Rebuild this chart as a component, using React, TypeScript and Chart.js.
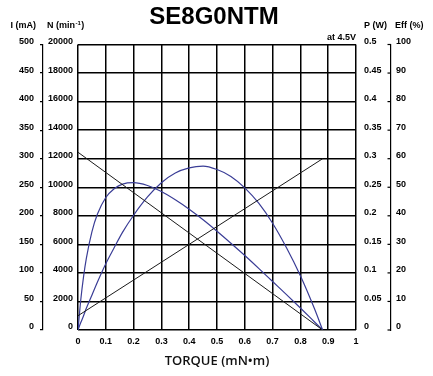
import React, { useEffect, useRef } from "react";
import { Chart, registerables } from "chart.js";

Chart.register(...registerables);

// ---- data ----
const torque = [0, 0.01, 0.02, 0.03, 0.05, 0.07, 0.1, 0.13, 0.16, 0.2, 0.25, 0.3, 0.35, 0.4, 0.45, 0.5, 0.55, 0.6, 0.65, 0.7, 0.75, 0.8, 0.85, 0.88];
const outputPower = [0, 0.013, 0.025, 0.038, 0.061, 0.084, 0.116, 0.144, 0.171, 0.201, 0.233, 0.258, 0.275, 0.284, 0.287, 0.281, 0.269, 0.249, 0.222, 0.187, 0.144, 0.095, 0.038, 0];
const efficiency = [0, 10.6, 18.7, 25.1, 34.4, 40.6, 46.4, 49.5, 51.1, 51.6, 50.6, 48.5, 45.6, 42.3, 38.6, 34.6, 30.4, 26.1, 21.6, 17.0, 12.4, 7.7, 2.9, 0];
const lineTorque = [0, 0.88];
const speed = [12450, 0];
const current = [25, 300];

const xLabels = ["0", "0.1", "0.2", "0.3", "0.4", "0.5", "0.6", "0.7", "0.8", "0.9", "1"];
const iLabels = ["0", "50", "100", "150", "200", "250", "300", "350", "400", "450", "500"];
const nLabels = ["0", "2000", "4000", "6000", "8000", "10000", "12000", "14000", "16000", "18000", "20000"];
const pLabels = ["0", "0.05", "0.1", "0.15", "0.2", "0.25", "0.3", "0.35", "0.4", "0.45", "0.5"];
const eLabels = ["0", "10", "20", "30", "40", "50", "60", "70", "80", "90", "100"];

const titleText = "SE8G0NTM";
const xTitle = "TORQUE (mN\u2022m)";
const headerI = "I (mA)";
const headerNMain = "N (min";
const headerNSup = "-1";
const headerP = "P (W)";
const headerE = "Eff (%)";
const voltageNote = "at 4.5V";

const FONT = '"Liberation Sans", Arial, sans-serif';
const BLUE = "#3a3d96";
const DARK = "#1a1a1a";

const pts = (xs: number[], ys: number[]) => xs.map((x, i) => ({ x, y: ys[i] }));

const decor = {
  id: "decor",
  afterDraw(chart: any) {
    const { ctx, chartArea, scales } = chart;
    const sI = scales.yI, sN = scales.yN, sP = scales.yP, sE = scales.yE;
    ctx.save();
    ctx.fillStyle = "#000";
    ctx.textBaseline = "middle";
    ctx.font = `bold 9px ${FONT}`;
    const hy = chartArea.top - 18.5;
    ctx.textAlign = "right";
    ctx.fillText(headerI, sI.right - 7, hy);
    ctx.textAlign = "left";
    let x = sN.left + 4;
    ctx.fillText(headerNMain, x, hy);
    x += ctx.measureText(headerNMain).width + 0.5;
    ctx.font = `bold 6px ${FONT}`;
    ctx.fillText(headerNSup, x, hy - 2.5);
    x += ctx.measureText(headerNSup).width + 0.5;
    ctx.font = `bold 9px ${FONT}`;
    ctx.fillText(")", x, hy);
    ctx.fillText(headerP, sP.left + 8, hy);
    ctx.fillText(headerE, sE.left + 4, hy);
    ctx.textAlign = "right";
    ctx.fillText(voltageNote, chartArea.right, chartArea.top - 6.5);
    // tick marks of the efficiency axis point inward
    ctx.strokeStyle = "#000";
    ctx.lineWidth = 1.2;
    sE.ticks.forEach((_t: any, i: number) => {
      const y = sE.getPixelForTick(i);
      ctx.beginPath();
      ctx.moveTo(sE.left - 3.5, y);
      ctx.lineTo(sE.left, y);
      ctx.stroke();
    });
    ctx.restore();
  },
};

export default function App() {
  const ref = useRef<HTMLCanvasElement | null>(null);
  useEffect(() => {
    if (!ref.current) return;
    const tickFont = { family: FONT, size: 9, weight: "bold" as const };
    const chart = new Chart(ref.current, {
      type: "scatter",
      data: {
        datasets: [
          { label: "N", data: pts(lineTorque, speed), yAxisID: "yN", borderColor: DARK, borderWidth: 1, showLine: true, pointRadius: 0 },
          { label: "I", data: pts(lineTorque, current), yAxisID: "yI", borderColor: DARK, borderWidth: 1, showLine: true, pointRadius: 0 },
          { label: "P", data: pts(torque, outputPower), yAxisID: "yP", borderColor: BLUE, borderWidth: 1.2, showLine: true, pointRadius: 0, cubicInterpolationMode: "monotone" },
          { label: "Eff", data: pts(torque, efficiency), yAxisID: "yE", borderColor: BLUE, borderWidth: 1.2, showLine: true, pointRadius: 0, cubicInterpolationMode: "monotone" },
        ],
      },
      options: {
        responsive: false,
        animation: false,
        devicePixelRatio: 1,
        layout: { padding: { left: 0, right: 5, top: 0, bottom: 0 } },
        plugins: {
          legend: { display: false },
          tooltip: { enabled: false },
          title: {
            display: true,
            text: titleText,
            color: "#000",
            font: { family: FONT, size: 24, weight: "bold" },
            padding: { top: 2.6, bottom: 13.1 },
          },
        },
        scales: {
          x: {
            type: "linear",
            min: 0,
            max: 1,
            ticks: { stepSize: 0.1, padding: 6, color: "#000", font: tickFont, callback: (_v: any, i: number) => xLabels[i] },
            grid: { color: "#000", lineWidth: 1.5, drawTicks: false },
            border: { display: false },
            title: { display: true, text: xTitle, color: "#111", font: { family: '"Open Sans", sans-serif', size: 13, weight: "600" }, padding: { top: 0, bottom: 6.5 } },
            afterFit: (s: any) => { s.height = 46; },
          },
          yI: {
            type: "linear",
            position: "left",
            weight: 1,
            min: 0,
            max: 500,
            ticks: { stepSize: 50, padding: 6, labelOffset: -3, color: "#000", font: tickFont, callback: (_v: any, i: number) => iLabels[i] },
            grid: { drawOnChartArea: false, drawTicks: true, tickLength: 3, color: "#000", lineWidth: 1.2 },
            border: { display: true, color: "#000", width: 1.2 },
            afterFit: (s: any) => { s.width = 43; },
          },
          yN: {
            type: "linear",
            position: "left",
            weight: 0,
            min: 0,
            max: 20000,
            ticks: { stepSize: 2000, padding: 5, labelOffset: -3, color: "#000", font: tickFont, callback: (_v: any, i: number) => nLabels[i] },
            grid: { color: "#000", lineWidth: 1.5, drawTicks: false },
            border: { display: false },
            afterFit: (s: any) => { s.width = 35; },
          },
          yP: {
            type: "linear",
            position: "right",
            weight: 0,
            min: 0,
            max: 0.5,
            ticks: { stepSize: 0.05, padding: 8, labelOffset: -3, color: "#000", font: tickFont, callback: (_v: any, i: number) => pLabels[i] },
            grid: { drawOnChartArea: false, drawTicks: false },
            border: { display: false },
            afterFit: (s: any) => { s.width = 35; },
          },
          yE: {
            type: "linear",
            position: "right",
            weight: 1,
            min: 0,
            max: 100,
            ticks: { stepSize: 10, padding: 5, labelOffset: -3, color: "#000", font: tickFont, callback: (_v: any, i: number) => eLabels[i] },
            grid: { drawOnChartArea: false, drawTicks: false },
            border: { display: true, color: "#000", width: 1.2 },
            afterFit: (s: any) => { s.width = 37; },
          },
        },
      } as any,
      plugins: [decor],
    });
    return () => chart.destroy();
  }, []);
  return (
    <div style={{ position: "absolute", left: 0, top: 0, width: 433, height: 376 }}>
      <canvas ref={ref} width={433} height={376} style={{ display: "block" }} />
    </div>
  );
}
